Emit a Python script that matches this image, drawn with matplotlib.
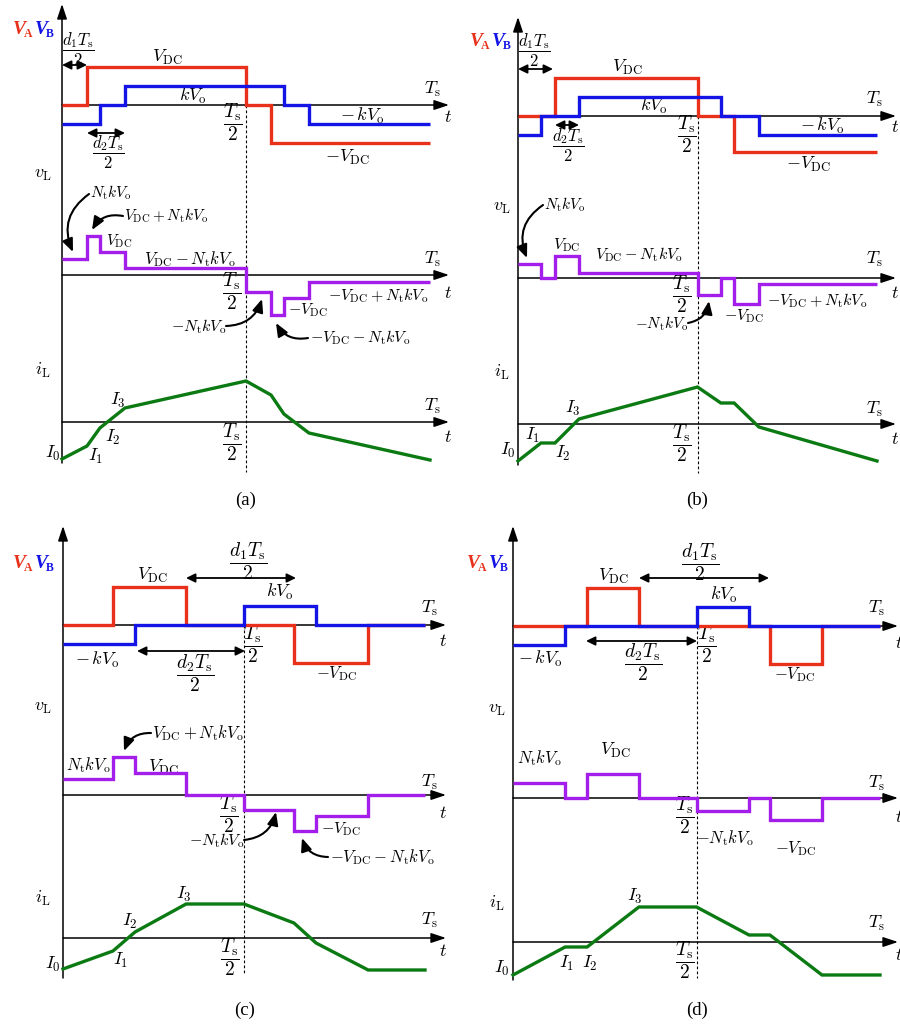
import matplotlib.pyplot as plt
from matplotlib.patches import FancyArrowPatch

plt.rcParams['mathtext.fontset'] = 'cm'
plt.rcParams['font.family'] = ['Liberation Serif', 'DejaVu Serif']

W, H = 900, 1025
RED = '#E8301A'
BLUE = '#1414E6'
PURPLE = '#A31EEA'
GREEN = '#0B7A12'

# switching instants in units of Ts; levels per unit
# (VA/VB: kVo = 1, VDC = 2; vL and iL in their own per-unit scales)

# mode (a)
A_VA_T = [0, 0.068, 0.5, 0.568, 1.0]
A_VA = [0, 2, 0, -2]
A_VB_T = [0, 0.103, 0.171, 0.603, 0.671, 1.0]
A_VB = [-1, 0, 1, 0, -1]
A_VL_T = [0, 0.068, 0.103, 0.171, 0.5, 0.568, 0.603, 0.671, 1.0]
A_VL = [0.7, 1.7, 1.0, 0.3, -0.74, -1.74, -1.0, -0.3]
A_IL = [-1.85, -1.2, -0.3, 0.7, 2.05, 1.35, 0.4, -0.55, -1.9]

# mode (b)
B_VA_T = [0, 0.103, 0.5, 0.602, 1.0]
B_VA = [0, 2, 0, -1.9]
B_VB_T = [0, 0.064, 0.170, 0.565, 0.671, 1.0]
B_VB = [-1, 0, 1, 0, -1]
B_VL_T = [0, 0.064, 0.103, 0.170, 0.5, 0.565, 0.602, 0.671, 1.0]
B_VL = [0.61, 0, 0.96, 0.22, -0.74, 0, -1.13, -0.26]
B_IL = [-1.85, -0.95, -0.95, 0.25, 1.85, 1.05, 1.05, -0.15, -1.85]

# mode (c)
C_VA_T = [0, 0.138, 0.340, 0.638, 0.843, 1.0]
C_VA = [0, 2, 0, -2, 0]
C_VB_T = [0, 0.199, 0.5, 0.699, 1.0]
C_VB = [-1, 0, 1, 0]
C_VL_T = [0, 0.138, 0.199, 0.340, 0.5, 0.638, 0.699, 0.843, 1.0]
C_VL = [0.7, 1.65, 0.96, 0, -0.65, -1.57, -0.91, 0]
C_IL = [-1.55, -0.65, 0.3, 1.7, 1.7, 0.75, -0.25, -1.6, -1.6]

# mode (d)
D_VA_T = [0, 0.202, 0.343, 0.700, 0.842, 1.0]
D_VA = [0, 2, 0, -2, 0]
D_VB_T = [0, 0.142, 0.5, 0.643, 1.0]
D_VB = [-1, 0, 1, 0]
D_VL_T = [0, 0.142, 0.202, 0.343, 0.5, 0.643, 0.700, 0.842, 1.0]
D_VL = [0.65, 0, 1.04, 0, -0.57, 0, -0.96, 0]
D_IL = [-1.65, -0.25, -0.25, 1.75, 1.75, 0.35, 0.35, -1.65, -1.65]

# pixels per unit for the three rows (VA/VB, vL, iL)
SCALE = (19, 23, 20)

VDC = r'$V_{\mathrm{DC}}$'
KVO = r'$kV_{\mathrm{o}}$'
NKV = r'$N_{\mathrm{t}}kV_{\mathrm{o}}$'
TS = r'$T_{\mathrm{s}}$'
TT = r'$t$'
TS2 = r'$\dfrac{T_{\mathrm{s}}}{2}$'
D1 = r'$\dfrac{d_1T_{\mathrm{s}}}{2}$'
D2 = r'$\dfrac{d_2T_{\mathrm{s}}}{2}$'
MKVO = r'$-\,kV_{\mathrm{o}}$'
MVDC = r'$-V_{\mathrm{DC}}$'
VPN = r'$V_{\mathrm{DC}}+N_{\mathrm{t}}kV_{\mathrm{o}}$'
VMN = r'$V_{\mathrm{DC}}-N_{\mathrm{t}}kV_{\mathrm{o}}$'
MVPN = r'$-V_{\mathrm{DC}}+N_{\mathrm{t}}kV_{\mathrm{o}}$'
MVMN = r'$-V_{\mathrm{DC}}-N_{\mathrm{t}}kV_{\mathrm{o}}$'
MNKV = r'$-N_{\mathrm{t}}kV_{\mathrm{o}}$'
VLL = r'$v_{\mathrm{L}}$'
ILL = r'$i_{\mathrm{L}}$'
I0, I1, I2, I3 = r'$I_0$', r'$I_1$', r'$I_2$', r'$I_3$'

FR = 14      # size of the Ts/2 fractions
FD = 13      # size of the duty-ratio fractions

fig = plt.figure(figsize=(9, 10.25), dpi=100)
ov = fig.add_axes([0, 0, 1, 1])
ov.set_xlim(0, W)
ov.set_ylim(H, 0)
ov.axis('off')


def arrow(p, q, style='-|>,head_length=0.75,head_width=0.25', lw=1.1, rad=0.0, ms=12):
    ov.add_patch(FancyArrowPatch(p, q, arrowstyle=style, mutation_scale=ms, lw=lw,
                                 color='k', shrinkA=0, shrinkB=0,
                                 connectionstyle=f'arc3,rad={rad}', zorder=3))


def dim(x1, x2, y):
    arrow((x1, y), (x2, y), style='<|-|>,head_length=0.45,head_width=0.22', lw=1.3)


def callout(start, tip, rad):
    arrow(start, tip, style='-|>,head_length=0.65,head_width=0.27', lw=1.5, rad=rad)


def txt(x, y, s, fs=13, ha='center', **kw):
    ov.text(x, y, s, fontsize=fs, ha=ha, va='center', **kw)


def vab(x, y):
    ov.text(x, y, 'V', color=RED, fontsize=14, fontweight='bold', fontstyle='italic',
            ha='left', va='center')
    ov.text(x + 11, y + 5, 'A', color=RED, fontsize=8.5, fontweight='bold', ha='left', va='center')
    ov.text(x + 22, y, 'V', color=BLUE, fontsize=14, fontweight='bold', fontstyle='italic',
            ha='left', va='center')
    ov.text(x + 33, y + 5, 'B', color=BLUE, fontsize=8.5, fontweight='bold', ha='left', va='center')


def panel(lay, va_t, va, vb_t, vb, vl_t, vl, il):
    x0, xs, xe = lay['x0'], lay['xs'], lay['xe']
    arrow((x0, lay['bottom']), (x0, lay['top']))
    for b in lay['base']:
        arrow((x0, b), (xe, b))
    xm = (x0 + xs) / 2
    ov.plot([xm, xm], lay['dash'], color='k', lw=0.8, ls=(0, (2.5, 2)))
    cx, cy, cs = lay['cap']
    txt(cx, cy, cs, fs=13.5)

    axs = []
    for b, sc in zip(lay['base'], SCALE):
        ax = fig.add_axes([x0 / W, 1 - (b + 60) / H, (xs - x0) / W, 120 / H])
        ax.set_xlim(0, 1)
        ax.set_ylim(-60 / sc, 60 / sc)
        ax.axis('off')
        axs.append(ax)
    axs[0].stairs(va, va_t, baseline=None, color=RED, lw=2.4, clip_on=False)
    axs[0].stairs(vb, vb_t, baseline=None, color=BLUE, lw=2.4, clip_on=False)
    axs[1].stairs(vl, vl_t, baseline=None, color=PURPLE, lw=2.4, clip_on=False)
    axs[2].plot(vl_t, il, color=GREEN, lw=2.4, clip_on=False, solid_joinstyle='miter')


# ---------------- (a)
panel(dict(x0=62, xs=430, xe=449, base=(105, 275, 422), top=4, bottom=463,
           dash=(105, 472), cap=(246, 500, '(a)')),
      A_VA_T, A_VA, A_VB_T, A_VB, A_VL_T, A_VL, A_IL)
vab(13, 29)
for x, y, s, fs in [(78, 49, D1, FD - 1), (167, 57, VDC, 13), (193, 96, KVO, 13),
                    (433, 89, TS, 13), (448, 118, TT, 13), (233, 122, TS2, FR),
                    (362, 116, MKVO, 13), (347, 157, MVDC, 13), (108, 152, D2, FD - 1),
                    (43, 175, VLL, 13), (119, 241, VDC, 11), (190, 259, VMN, 12),
                    (433, 259, TS, 13), (448, 293, TT, 13), (232, 291, TS2, FR),
                    (378, 296, MVPN, 11.5), (308, 310, MVDC, 11.5),
                    (43, 370, ILL, 13), (118, 400, I3, 13), (433, 406, TS, 13),
                    (448, 437, TT, 13), (113, 437, I2, 13), (232, 442, TS2, FR),
                    (53, 453, I0, 13), (96, 456, I1, 13)]:
    txt(x, y, s, fs)
dim(62, 87, 65)
dim(87, 125, 133)
txt(90, 193, NKV, 11, ha='left')
callout((89, 194), (73, 252), 0.4)
txt(124, 216, VPN, 11, ha='left')
callout((123, 216), (92, 230), 0.35)
txt(226, 327, MNKV, 11.5, ha='right')
callout((226, 326), (262, 299), 0.35)
txt(310, 338, MVMN, 11.5, ha='left')
callout((308, 338), (276, 323), -0.35)

# ---------------- (b)
panel(dict(x0=518, xs=877, xe=896, base=(116, 278, 424), top=17, bottom=465,
           dash=(116, 473), cap=(697, 500, '(b)')),
      B_VA_T, B_VA, B_VB_T, B_VB, B_VL_T, B_VL, B_IL)
vab(470, 41)
for x, y, s, fs in [(534, 50, D1, FD - 1), (627, 67, VDC, 13), (654, 106, KVO, 13),
                    (875, 99, TS, 13), (895, 128, TT, 13), (687, 134, TS2, FR),
                    (822, 126, MKVO, 13), (808, 164, MVDC, 13), (568, 145, D2, FD - 1),
                    (502, 208, VLL, 13), (567, 245, VDC, 11.5), (639, 255, VMN, 11.5),
                    (875, 259, TS, 13), (895, 293, TT, 13), (682, 294, TS2, FR),
                    (817, 301, MVPN, 11.5), (744, 316, MVDC, 11.5),
                    (502, 372, ILL, 13), (573, 408, I3, 13), (533, 435, I1, 13),
                    (563, 453, I2, 13), (508, 450, I0, 13), (875, 409, TS, 13),
                    (895, 440, TT, 13), (682, 443, TS2, FR)]:
    txt(x, y, s, fs)
dim(518, 553, 69)
dim(555, 579, 125)
txt(544, 205, NKV, 11, ha='left')
callout((543, 205), (527, 258), 0.4)
txt(688, 324, MNKV, 11, ha='right')
callout((688, 323), (709, 301), 0.35)

# ---------------- (c)
panel(dict(x0=63, xs=425, xe=446, base=(625, 795, 938), top=526, bottom=978,
           dash=(625, 975), cap=(245, 1010, '(c)')),
      C_VA_T, C_VA, C_VB_T, C_VB, C_VL_T, C_VL, C_IL)
vab(13, 563)
for x, y, s, fs in [(152, 575, VDC, 13), (248, 561, D1, FD + 1), (280, 592, KVO, 13),
                    (430, 608, TS, 13), (443, 642, TT, 13), (253, 644, TS2, FR),
                    (97, 660, MKVO, 13), (195, 673, D2, FD + 1), (337, 674, MVDC, 12),
                    (43, 707, VLL, 13), (88, 765, NKV, 12), (163, 767, VDC, 13),
                    (430, 782, TS, 13), (443, 813, TT, 13), (229, 814, TS2, FR),
                    (341, 829, MVDC, 11.5),
                    (43, 898, ILL, 13), (184, 894, I3, 13), (130, 921, I2, 13),
                    (121, 960, I1, 13), (53, 964, I0, 13), (430, 920, TS, 13),
                    (443, 952, TT, 13), (230, 957, TS2, FR)]:
    txt(x, y, s, fs)
dim(186, 296, 578)
dim(137, 245, 651)
txt(152, 733, VPN, 12, ha='left')
callout((151, 733), (124, 751), 0.35)
txt(244, 841, MNKV, 11.5, ha='right')
callout((244, 840), (276, 812), 0.35)
txt(330, 857, MVMN, 12, ha='left')
callout((328, 857), (302, 838), -0.35)

# ---------------- (d)
panel(dict(x0=513, xs=880, xe=898, base=(626, 798, 942), top=526, bottom=980,
           dash=(626, 978), cap=(697, 1010, '(d)')),
      D_VA_T, D_VA, D_VB_T, D_VB, D_VL_T, D_VL, D_IL)
vab(467, 563)
for x, y, s, fs in [(613, 576, VDC, 13), (700, 562, D1, FD + 1), (724, 595, KVO, 13),
                    (877, 608, TS, 13), (899, 643, TT, 13), (707, 644, TS2, FR),
                    (540, 659, MKVO, 13), (643, 662, D2, FD + 1), (795, 675, MVDC, 12),
                    (497, 709, VLL, 13), (539, 758, NKV, 12), (615, 750, VDC, 13),
                    (877, 783, TS, 13), (899, 818, TT, 13), (685, 815, TS2, FR),
                    (725, 838, MNKV, 12), (796, 849, MVDC, 12),
                    (497, 903, ILL, 13), (635, 896, I3, 13), (567, 963, I1, 13),
                    (590, 963, I2, 13), (502, 968, I0, 13), (877, 923, TS, 13),
                    (899, 955, TT, 13), (685, 960, TS2, FR)]:
    txt(x, y, s, fs)
dim(639, 769, 578)
dim(586, 697, 641)

fig.savefig('out.png', dpi=100)
